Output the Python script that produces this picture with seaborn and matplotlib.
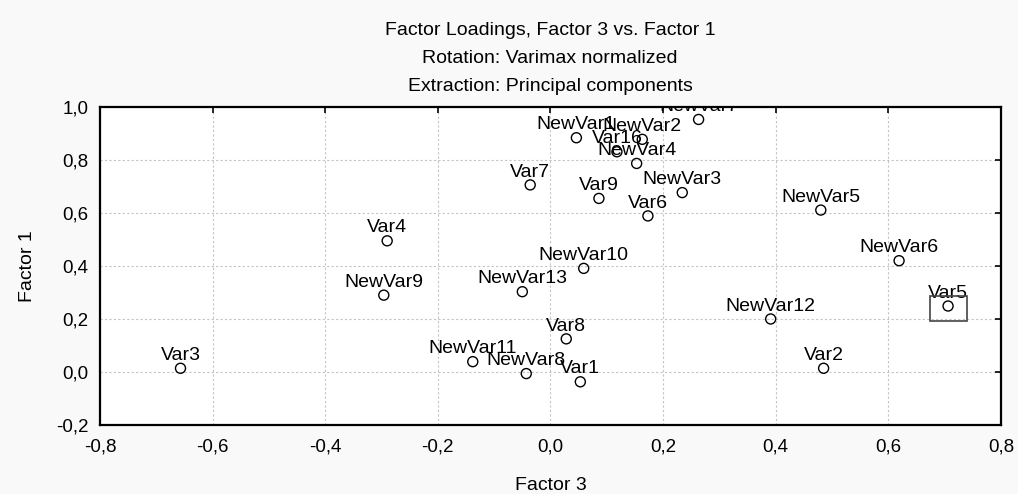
import pandas as pd
import matplotlib.pyplot as plt
import matplotlib.ticker as mticker
from matplotlib.patches import Rectangle
import seaborn as sns

# Loadings
names = ["Var1", "Var2", "Var3", "Var4", "Var5", "Var6", "Var7", "Var8", "Var9", "Var16",
         "NewVar1", "NewVar2", "NewVar3", "NewVar4", "NewVar5", "NewVar6", "NewVar7",
         "NewVar8", "NewVar9", "NewVar10", "NewVar11", "NewVar12", "NewVar13"]
factor3 = [0.053, 0.485, -0.657, -0.290, 0.706, 0.173, -0.036, 0.028, 0.086, 0.118,
           0.046, 0.163, 0.234, 0.153, 0.480, 0.619, 0.263,
           -0.043, -0.296, 0.059, -0.138, 0.391, -0.050]
factor1 = [-0.037, 0.014, 0.014, 0.495, 0.249, 0.589, 0.706, 0.125, 0.655, 0.831,
           0.884, 0.878, 0.677, 0.787, 0.611, 0.420, 0.953,
           -0.006, 0.290, 0.391, 0.039, 0.200, 0.303]
highlighted = "Var5"

x_ticks = [-0.8, -0.6, -0.4, -0.2, 0.0, 0.2, 0.4, 0.6, 0.8]
y_ticks = [-0.2, 0.0, 0.2, 0.4, 0.6, 0.8, 1.0]

df = pd.DataFrame({"name": names, "Factor 3": factor3, "Factor 1": factor1})

sns.set_style("white")
plt.rcParams['font.family'] = ['Liberation Sans', 'DejaVu Sans']
plt.rcParams['text.color'] = 'black'
plt.rcParams['axes.labelcolor'] = 'black'
fs = 14

fig = plt.figure(figsize=(10.18, 4.94), dpi=100, facecolor="#f9f9f9")
ax = fig.add_axes([0.0982, 0.1397, 0.8851, 0.6437])
ax.set_facecolor("white")

sns.scatterplot(data=df, x="Factor 3", y="Factor 1", ax=ax, marker="o", s=52,
                facecolor="none", edgecolor="black", linewidth=1.0, zorder=3)

for _, r in df.iterrows():
    ax.annotate(r["name"], (r["Factor 3"], r["Factor 1"]), xytext=(0, 6),
                textcoords="offset points", ha="center", va="baseline",
                fontsize=fs, color="black", annotation_clip=False, clip_on=True, zorder=4)

# box around the highlighted point
hp = df[df["name"] == highlighted].iloc[0]
ax.add_patch(Rectangle((hp["Factor 3"] - 0.032, hp["Factor 1"] - 0.058), 0.065, 0.095,
                       fill=False, edgecolor="#444444", linewidth=1.2, zorder=5))

ax.set_xlim(x_ticks[0], x_ticks[-1])
ax.set_ylim(y_ticks[0], y_ticks[-1])
ax.set_xticks(x_ticks)
ax.set_yticks(y_ticks)
comma = mticker.FuncFormatter(lambda v, p: f"{v:.1f}".replace(".", ",").replace("-0,0", "0,0"))
ax.xaxis.set_major_formatter(comma)
ax.yaxis.set_major_formatter(comma)
ax.tick_params(direction="in", length=4, width=1.2, top=True, right=True,
               labelsize=13.5, colors="black", labelcolor="black")
ax.tick_params(axis="x", pad=10)
ax.tick_params(axis="y", pad=8.5)
ax.grid(True, color="#c4c4c4", linestyle=(0, (2, 2)), linewidth=0.8)
for s in ax.spines.values():
    s.set_color("black")
    s.set_linewidth(1.6)

ax.set_xlabel("Factor 3", fontsize=fs, labelpad=15, color="black")
ax.set_ylabel("Factor 1", fontsize=fs, labelpad=14, color="black")
fig.text(0.5405, 0.929, "Factor Loadings, Factor 3 vs. Factor 1", ha="center", va="baseline", fontsize=fs)
fig.text(0.5405, 0.872, "Rotation: Varimax normalized", ha="center", va="baseline", fontsize=fs)
fig.text(0.5405, 0.816, "Extraction: Principal components", ha="center", va="baseline", fontsize=fs)

fig.savefig("out.png", dpi=100, facecolor=fig.get_facecolor())
